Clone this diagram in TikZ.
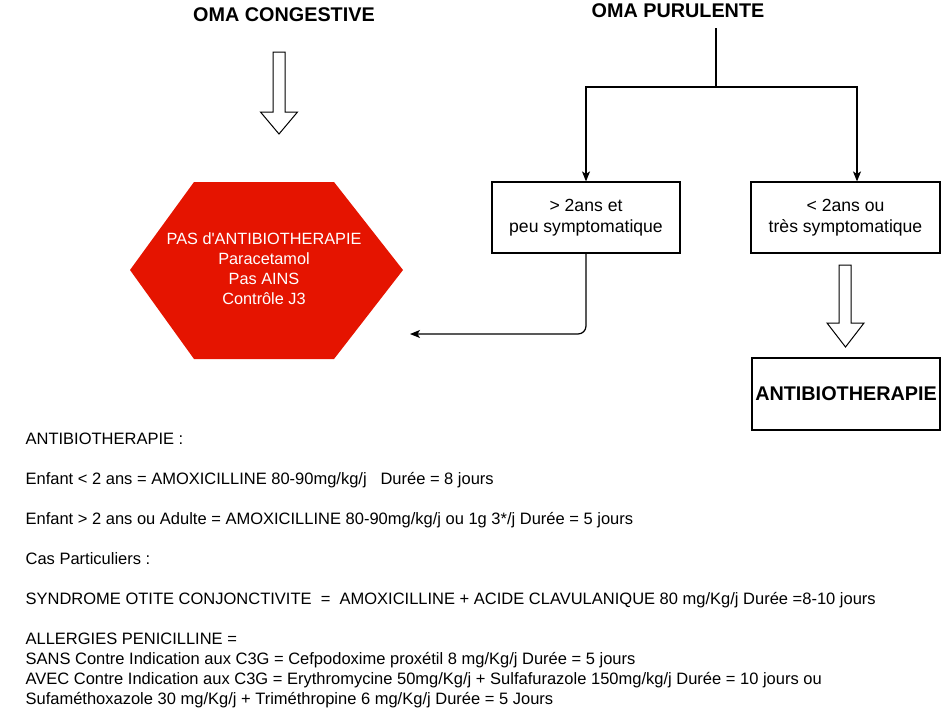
\documentclass[tikz,border=0pt]{standalone}
\usepackage{fontspec}
\setmainfont{Liberation Sans}
\usetikzlibrary{arrows.meta}
\definecolor{hexred}{HTML}{E51400}
\begin{document}
\begin{tikzpicture}[x=1pt,y=-1pt,
  line width=1.2pt,
  title/.style={font=\fontsize{19.8pt}{24pt}\selectfont\bfseries, inner sep=0pt, anchor=base},
  box/.style={draw=black, fill=white, align=center, inner sep=0pt,
    font=\fontsize{17.6pt}{21pt}\selectfont},
  hollow/.style={draw=black, fill=white, line width=1pt, line join=miter},
  conn/.style={draw=black, line width=1.2pt, -{Stealth[length=10pt,width=8pt,inset=2.5pt]}},
  body/.style={font=\fontsize{16.5pt}{20pt}\selectfont, align=left, inner sep=0pt, anchor=north west}]
\useasboundingbox (0,0) rectangle (941,716);

% titles
\node[title] (cong) at (284,21) {OMA CONGESTIVE};
\node[title] (pur) at (678,17) {OMA PURULENTE};

% hollow arrow under OMA CONGESTIVE
\draw[hollow] (273,52) -- (285,52) -- (285,112) -- (297.5,112) -- (279,134)
  -- (260.5,112) -- (273,112) -- cycle;

% hexagon
\fill[hexred] (130,270) -- (194,182) -- (334,182) -- (403,270) -- (334,359) -- (194,359) -- cycle;
\node[text=white, align=center, inner sep=0pt, font=\fontsize{16.3pt}{20pt}\selectfont] (hex) at (264,269)
  {PAS d\textquotesingle ANTIBIOTHERAPIE\\Paracetamol\\Pas AINS\\Contrôle J3};
\coordinate (hexend) at (410,334);

% boxes
\node[box, minimum width=188pt, minimum height=71pt] (b1) at (586,217.5) {> 2ans et\\peu symptomatique};
\node[box, minimum width=189pt, minimum height=71pt] (b2) at (845.5,217.5) {< 2ans ou\\très symptomatique};
\node[box, minimum width=188pt, minimum height=72pt, font=\fontsize{19.8pt}{24pt}\selectfont\bfseries] (ab) at (846,394) {ANTIBIOTHERAPIE};

% connectors
\coordinate (ptop) at (716,28);
\coordinate (split) at (716,87);
\draw (ptop) -- (split);
\draw[conn] (split) -| (b1.north);
\draw[conn] (split) -| ([xshift=11.5pt]b2.north);
\draw[conn, rounded corners=8pt] (b1.south) |- (hexend);

% hollow arrow to ANTIBIOTHERAPIE
\draw[hollow] (839,265) -- (851,265) -- (851,323) -- (864,323) -- (845.5,347)
  -- (827,323) -- (839,323) -- cycle;

% text block
\node[body] (txt) at (25,432.2) {ANTIBIOTHERAPIE :\\[20pt]
Enfant < 2 ans = AMOXICILLINE 80-90mg/kg/j\ \ \ Durée = 8 jours\\[20pt]
Enfant > 2 ans ou Adulte = AMOXICILLINE 80-90mg/kg/j ou 1g 3*/j Durée = 5 jours\\[20pt]
Cas Particuliers :\\[20pt]
SYNDROME OTITE CONJONCTIVITE\ \ =\ \ AMOXICILLINE + ACIDE CLAVULANIQUE 80 mg/Kg/j Durée =8-10 jours\\[20pt]
ALLERGIES PENICILLINE =\\
SANS Contre Indication aux C3G = Cefpodoxime proxétil 8 mg/Kg/j Durée = 5 jours\\
AVEC Contre Indication aux C3G = Erythromycine 50mg/Kg/j + Sulfafurazole 150mg/kg/j Durée = 10 jours ou\\
Sufaméthoxazole 30 mg/Kg/j + Triméthropine 6 mg/Kg/j Durée = 5 Jours};
\end{tikzpicture}
\end{document}
